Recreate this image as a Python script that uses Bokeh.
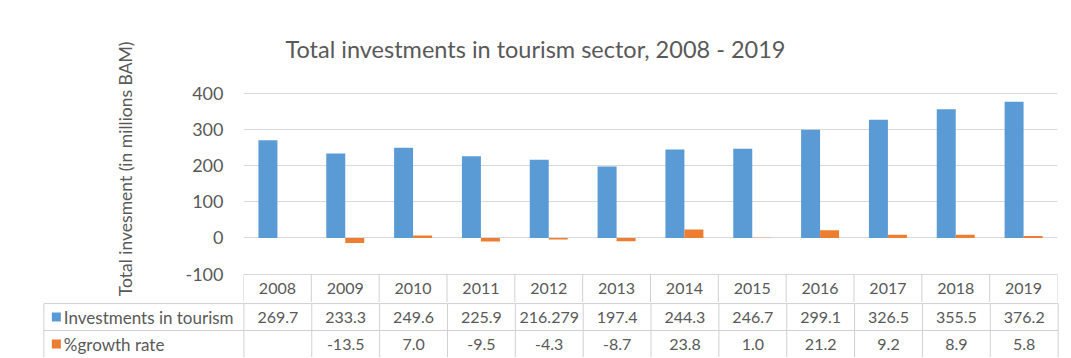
from bokeh.plotting import figure
from bokeh.models import (FactorRange, Range1d, ColumnDataSource, FixedTicker,
                          NumeralTickFormatter, Title)
from bokeh.transform import dodge
from bokeh.core.properties import value
from bokeh.embed import file_html
from bokeh.resources import INLINE

# ---------------- data ----------------
years = ["2008", "2009", "2010", "2011", "2012", "2013",
         "2014", "2015", "2016", "2017", "2018", "2019"]
investments = [269.7, 233.3, 249.6, 225.9, 216.279, 197.4,
               244.3, 246.7, 299.1, 326.5, 355.5, 376.2]
growth = [None, -13.5, 7.0, -9.5, -4.3, -8.7,
          23.8, 1.0, 21.2, 9.2, 8.9, 5.8]
series_names = ["Investments in tourism", "%growth rate"]
y_ticks = [-100, 0, 100, 200, 300, 400]
title_text = "Total investments in tourism sector, 2008 - 2019"
y_label = "Total invesment (in millions BAM)"

# ---------------- style ----------------
BLUE = "#5B9BD5"
ORANGE = "#ED7D31"
TEXT = "#595959"
GRID = "#D9D9D9"
TLINE = "#D0D0D0"
FONT = "Lato"

growth_vals = [float("nan") if g is None else g for g in growth]
src = ColumnDataSource(dict(year=years, inv=investments, gr=growth_vals))
n = len(years)

# vertical extent of chart frame (value units): the table's header row
# sits right below the lowest tick
Y_TOP = 484.8
Y_BOT = -178.2
hdr_top = y_ticks[0]
hdr_mid = (hdr_top + Y_BOT) / 2

# ---------------- chart ----------------
p = figure(x_range=FactorRange(factors=years), y_range=Range1d(Y_BOT, Y_TOP),
           width=1061, height=302, output_backend="svg", toolbar_location=None,
           x_axis_location=None,
           min_border_left=243, min_border_right=4, min_border_top=62,
           min_border_bottom=0)
p.outline_line_color = None
p.background_fill_color = "white"
p.border_fill_color = "white"

p.vbar(x=dodge("year", -0.14, range=p.x_range), top="inv", bottom=0,
       width=0.28, source=src, fill_color=BLUE, line_color=None)
p.vbar(x=dodge("year", 0.14, range=p.x_range), top="gr", bottom=0,
       width=0.28, source=src, fill_color=ORANGE, line_color=None)

tk = FixedTicker(ticks=y_ticks)
p.yaxis.ticker = tk
p.ygrid.ticker = tk
p.yaxis.formatter = NumeralTickFormatter(format="0")
p.xgrid.visible = False
p.ygrid.grid_line_color = GRID
p.yaxis.axis_line_color = None
p.yaxis.major_tick_line_color = None
p.yaxis.minor_tick_line_color = None
p.yaxis.major_tick_out = 0
p.yaxis.major_tick_in = 0
p.yaxis.minor_tick_out = 0
p.yaxis.major_label_standoff = 20
p.yaxis.major_label_text_font = FONT
p.yaxis.major_label_text_font_size = "18px"
p.yaxis.major_label_text_color = TEXT

p.title.text = title_text
p.title.align = "left"
p.title.offset = 42
p.title.text_font = FONT
p.title.text_font_size = "23.5px"
p.title.text_font_style = "normal"
p.title.text_color = TEXT
p.title.standoff = 0

ytitle = Title(text=y_label, align="right", offset=-21, vertical_align="bottom",
               text_font=FONT, text_font_size="17.5px", text_font_style="normal",
               text_color=TEXT, standoff=94)
p.add_layout(ytitle, "left")

# header row of the data table (years), inside the chart frame
p.segment(x0=list(range(n + 1)), y0=[hdr_top] * (n + 1),
          x1=list(range(n + 1)), y1=[Y_BOT] * (n + 1),
          line_color=TLINE, line_width=1)
p.text(x=years, y=[hdr_mid] * n, text=years, text_align="center",
       text_baseline="middle", text_font=value(FONT), text_font_size="16px",
       text_color=TEXT)

# ---------------- data rows of the table ----------------
COLW = 814 / n            # pixel width of one year column
lab = 200 / COLW          # label column width in column units
t = figure(x_range=Range1d(-lab - 0.02, n + 0.02), y_range=Range1d(2.0, -0.04),
           width=1061, height=55, output_backend="svg", toolbar_location=None,
           x_axis_location=None, y_axis_location=None,
           min_border_left=42, min_border_right=2, min_border_top=0,
           min_border_bottom=0)
t.outline_line_color = None
t.xgrid.visible = False
t.ygrid.visible = False
t.background_fill_color = "white"
t.border_fill_color = "white"

hy = [0.0, 1.0]
t.segment(x0=[-lab] * 2, y0=hy, x1=[float(n)] * 2, y1=hy,
          line_color=TLINE, line_width=1)
vx = [-lab] + [float(k) for k in range(n + 1)]
t.segment(x0=vx, y0=[0.0] * len(vx), x1=vx, y1=[2.0] * len(vx),
          line_color=TLINE, line_width=1)

xc = [i + 0.5 for i in range(n)]
inv_txt = [str(v) for v in investments]
gr_txt = ["" if g is None else f"{g:.1f}" for g in growth]
common = dict(text_align="center", text_baseline="middle",
              text_font=value(FONT), text_font_size="16px", text_color=TEXT)
t.text(x=xc, y=[0.5] * n, text=inv_txt, **common)
t.text(x=xc, y=[1.5] * n, text=gr_txt, **common)

t.text(x=[-lab, -lab], y=[0.5, 1.5], text=series_names, x_offset=20,
       text_align="left", text_baseline="middle", text_font=value(FONT),
       text_font_size="17px", text_color=TEXT)
t.scatter(x=[-lab + 12.5 / COLW] * 2, y=[0.5, 1.5], marker="square", size=9,
          fill_color=[BLUE, ORANGE], line_color=None)

open("out.html", "w").write(file_html([p, t], INLINE))
